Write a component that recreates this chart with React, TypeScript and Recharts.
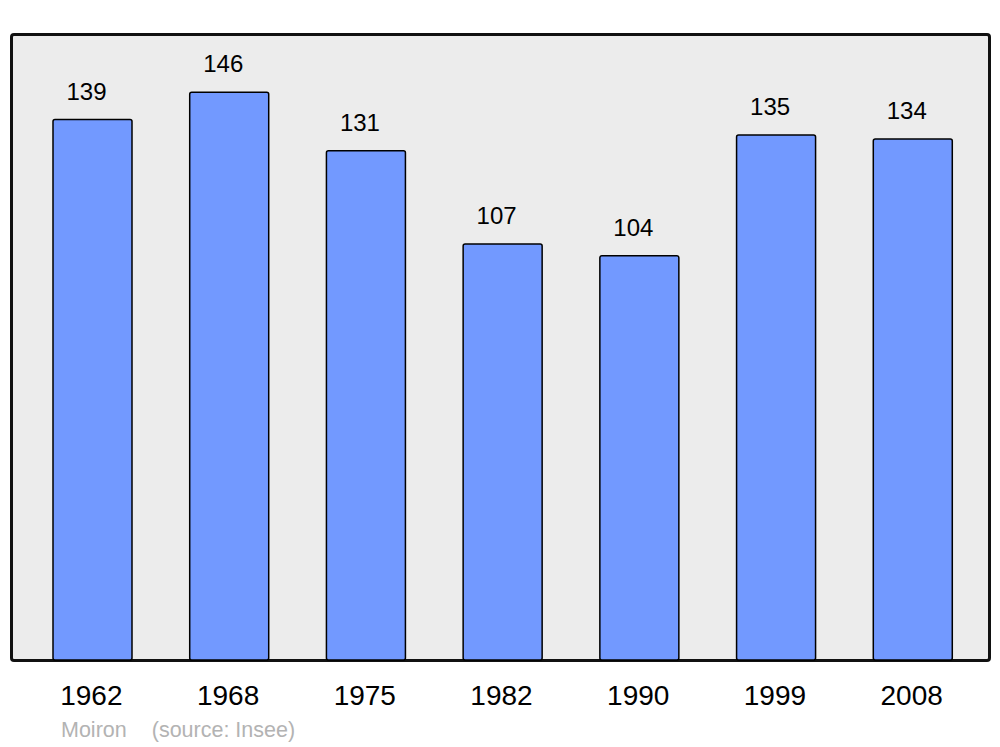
import { Bar, BarChart, LabelList, XAxis, YAxis } from "recharts";

const years = ["1962", "1968", "1975", "1982", "1990", "1999", "2008"];
const population = [139, 146, 131, 107, 104, 135, 134];
const yMax = 161;

const data = years.map((year, i) => ({ year, value: population[i] }));

const font = "'Liberation Sans', Arial, sans-serif";

function YearTick(props: any) {
  const { x, y, payload } = props;
  return (
    <text x={x - 1} y={y} dy={45} textAnchor="middle" fontSize={28} fill="#000" fontFamily={font}>
      {payload.value}
    </text>
  );
}

function ValueLabel(props: any) {
  const { x, y, width, value } = props;
  return (
    <text x={x + width / 2 - 6} y={y - 20} textAnchor="middle" fontSize={24} fill="#000" fontFamily={font}>
      {value}
    </text>
  );
}

export default function App() {
  return (
    <div style={{ position: "absolute", left: 0, top: 0, width: 1000, height: 747, background: "#fff", fontFamily: font }}>
      {/* plot frame */}
      <div
        style={{
          position: "absolute",
          left: 10,
          top: 33,
          width: 975,
          height: 623,
          border: "3px solid #111",
          borderRadius: 4,
          background: "#ececec",
        }}
      />
      <div style={{ position: "absolute", left: 0, top: 0 }}>
        <BarChart width={1000} height={747} data={data} margin={{ top: 34, right: 11, left: 11, bottom: 0 }}>
          <XAxis
            dataKey="year"
            height={87}
            axisLine={false}
            tickLine={false}
            tickSize={0}
            tickMargin={0}
            padding={{ left: 13, right: 8 }}
            tick={<YearTick />}
            interval={0}
          />
          <YAxis hide domain={[0, yMax]} />
          <Bar
            dataKey="value"
            fill="#7299ff"
            stroke="#000"
            strokeWidth={1.5}
            radius={2}
            barSize={79}
            isAnimationActive={false}
          >
            <LabelList dataKey="value" content={<ValueLabel />} />
          </Bar>
        </BarChart>
      </div>
      <div
        style={{
          position: "absolute",
          left: 61,
          top: 718,
          fontSize: 21.5,
          color: "#b3b3b3",
          whiteSpace: "pre",
          lineHeight: "24px",
        }}
      >
        Moiron<span style={{ marginLeft: 25 }}>(source: Insee)</span>
      </div>
    </div>
  );
}
